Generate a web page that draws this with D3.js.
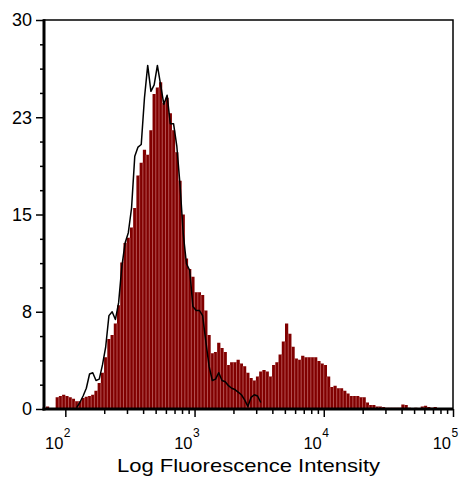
<!DOCTYPE html>
<html>
<head>
<meta charset="utf-8">
<script src="https://cdn.jsdelivr.net/npm/d3@7"></script>
<style>
  body { margin: 0; background: #fff; }
  text { font-family: "Liberation Sans", Arial, sans-serif; fill: #000; }
</style>
</head>
<body>
<div id="histogram"></div>
<script>
// Histogram bins: equal width on a log10 axis
var binStartLog = 1.85;
var binStepLog = 0.025;

// Sample counts per bin (red filled histogram)
var sampleCounts = [
  0.2, 0, 0, 0.9, 1.0, 1.1, 1.0, 0.9, 0.8, 0.6,
  0.6, 0.85, 0.95, 1.0, 1.1, 1.4, 2.0, 2.8, 4.0, 5.4,
  5.7, 6.6, 8.0, 11.3, 12.8, 13.2, 14.0, 15.5, 18.0, 19.0,
  20.0, 19.6, 21.5, 24.3, 24.8, 25.2, 23.6, 24.0, 22.8, 21.5,
  19.8, 17.6, 15.0, 11.6, 10.8, 10.2, 9.0, 9.0, 8.8, 7.6,
  5.7, 4.3, 4.4, 5.1, 4.7, 4.4, 3.4, 3.6, 3.6, 3.8,
  3.5, 3.3, 2.8, 2.4, 2.2, 2.5, 2.9, 3.0, 2.9, 2.5,
  3.4, 3.6, 4.2, 5.2, 6.6, 5.8, 4.8, 3.9, 3.8, 4.1,
  4.0, 4.0, 4.0, 4.0, 3.7, 3.5, 3.4, 2.5, 1.7, 1.8,
  1.6, 1.6, 1.4, 1.2, 1.0, 1.0, 1.0, 0.9, 0.9, 0.5,
  0.3, 0.3, 0.2, 0.2, 0.15, 0.1, 0.1, 0.1, 0.1, 0.1,
  0.35, 0.3, 0.1, 0.05, 0.1, 0.05, 0.2, 0.25, 0.15, 0.1,
  0.15, 0.05, 0, 0, 0, 0
];

// Control counts per bin (black outline), null where not drawn
var controlCounts = [
  null, null, null, null, null, null, null, null, null, 0.1,
  0.5, 1.0, 1.6, 2.7, 2.8, 2.2, 2.3, 3.4, 4.8, 7.2,
  7.5, 6.9, 8.2, 11.0, 12.8, 13.6, 15.5, 19.5, 20.2, 20.4,
  24.0, 26.5, 24.5, 25.0, 26.5, 25.0, 23.5, 24.2, 22.0, 22.0,
  20.3, 17.3, 13.5, 11.2, 10.7, 7.9, 7.6, 7.6, 7.2, 5.2,
  3.3, 2.2, 2.3, 2.8, 2.2, 2.1, 1.8, 1.6, 1.5, 1.3,
  1.1, 0.7, 0.2, 0.9, 1.1, 1.0, 0.5
];

// Axis ticks
var yTickValues = [0, 7.5, 15, 22.5, 30];
var yTickLabels = ["0", "8", "15", "23", "30"];
var yMinorTicks = [1.875, 3.75, 5.625, 9.375, 11.25, 13.125, 16.875, 18.75, 20.625, 24.375, 26.25, 28.125];
var xTickValues = [100, 1000, 10000, 100000];
var xTickExponents = ["2", "3", "4", "5"];
var xMinorTicks = [200, 300, 400, 500, 600, 700, 800, 900,
  2000, 3000, 4000, 5000, 6000, 7000, 8000, 9000,
  20000, 30000, 40000, 50000, 60000, 70000, 80000, 90000];
var xTitle = "Log Fluorescence Intensity";

// plot box in pixels (window.top is reserved, so use a margin object)
var margin = {left: 44, right: 453, top: 20, bottom: 409};
var width = 459, height = 477;

var svg = d3.select("#histogram")
  .append("svg")
  .attr("width", width)
  .attr("height", height);

var x = d3.scaleLog()
  .domain([Math.pow(10, 1.835), 100000])
  .range([margin.left, margin.right]);

var y = d3.scaleLinear()
  .domain([0, 30])
  .range([margin.bottom, margin.top]);

// bin edges on the log axis
function binLo(i) { return Math.pow(10, binStartLog + i * binStepLog); }
function binHi(i) { return Math.pow(10, binStartLog + (i + 1) * binStepLog); }
function binMid(i) { return Math.pow(10, binStartLog + (i + 0.5) * binStepLog); }

// Red histogram as one stepped area
var stepPts = [];
sampleCounts.forEach(function (v, i) {
  stepPts.push([binLo(i), v]);
  stepPts.push([binHi(i), v]);
});
svg.append("path")
  .datum(stepPts)
  .attr("d", d3.area()
    .x(function (d) { return x(d[0]); })
    .y0(y(0))
    .y1(function (d) { return y(d[1]); }))
  .attr("fill", "#800000");

// light seams between bars
svg.append("g")
  .selectAll("line")
  .data(d3.range(1, sampleCounts.length))
  .enter()
  .append("line")
  .attr("x1", function (i) { return x(binLo(i)); })
  .attr("x2", function (i) { return x(binLo(i)); })
  .attr("y1", y(0))
  .attr("y2", function (i) { return y(Math.min(sampleCounts[i - 1], sampleCounts[i])); })
  .attr("stroke", "#d88c8c")
  .attr("stroke-width", 0.6);

// Control outline
svg.append("path")
  .datum(controlCounts.map(function (v, i) { return [binMid(i), v]; }))
  .attr("d", d3.line()
    .defined(function (d) { return d[1] !== null; })
    .x(function (d) { return x(d[0]); })
    .y(function (d) { return y(d[1]); }))
  .attr("fill", "none")
  .attr("stroke", "#000")
  .attr("stroke-width", 1.5)
  .attr("stroke-linejoin", "round");

// Frame: thin top/right, thick left/bottom
svg.append("rect")
  .attr("x", margin.left).attr("y", margin.top)
  .attr("width", margin.right - margin.left).attr("height", margin.bottom - margin.top)
  .attr("fill", "none")
  .attr("stroke", "#000")
  .attr("stroke-width", 1.5);
svg.append("line")
  .attr("x1", margin.left).attr("x2", margin.left)
  .attr("y1", margin.top - 0.7).attr("y2", margin.bottom + 1.5)
  .attr("stroke", "#000").attr("stroke-width", 3);
svg.append("line")
  .attr("x1", margin.left - 1.5).attr("x2", margin.right)
  .attr("y1", margin.bottom).attr("y2", margin.bottom)
  .attr("stroke", "#000").attr("stroke-width", 3);

// Y axis ticks
var yAxis = svg.append("g")
  .attr("transform", "translate(" + margin.left + ",0)")
  .call(d3.axisLeft(y)
    .tickValues(yTickValues)
    .tickFormat(function (d, i) { return yTickLabels[i]; })
    .tickSize(8)
    .tickPadding(4));
yAxis.select(".domain").remove();
yAxis.selectAll("line").attr("stroke-width", 1.5);
yAxis.selectAll("text")
  .style("font-family", '"Liberation Sans", Arial, sans-serif')
  .style("font-size", "18px");

var yMinor = svg.append("g")
  .attr("transform", "translate(" + margin.left + ",0)")
  .call(d3.axisLeft(y).tickValues(yMinorTicks).tickSize(4).tickFormat(""));
yMinor.select(".domain").remove();
yMinor.selectAll("line").attr("stroke-width", 1.5);

// X axis ticks
var xAxis = svg.append("g")
  .attr("transform", "translate(0," + margin.bottom + ")")
  .call(d3.axisBottom(x).tickValues(xTickValues).tickSize(8).tickFormat(""));
xAxis.select(".domain").remove();
xAxis.selectAll("line").attr("stroke-width", 1.5);

var xMinor = svg.append("g")
  .attr("transform", "translate(0," + margin.bottom + ")")
  .call(d3.axisBottom(x).tickValues(xMinorTicks).tickSize(5).tickFormat(""));
xMinor.select(".domain").remove();
xMinor.selectAll("line").attr("stroke-width", 1.5);

// Power-of-ten tick labels
var xLabels = svg.append("g").selectAll("g")
  .data(xTickValues)
  .enter()
  .append("g");
xLabels.append("text")
  .attr("x", function (d) { return x(d) - 2; })
  .attr("y", 449)
  .attr("text-anchor", "end")
  .style("font-size", "16.5px")
  .text("10");
xLabels.append("text")
  .attr("x", function (d) { return x(d) - 1.5; })
  .attr("y", 437)
  .attr("text-anchor", "start")
  .style("font-size", "12px")
  .text(function (d, i) { return xTickExponents[i]; });

// Axis title
svg.append("text")
  .attr("transform", "translate(" + ((margin.left + margin.right) / 2) + ",472) scale(1.16,1)")
  .attr("text-anchor", "middle")
  .style("font-size", "19px")
  .text(xTitle);
</script>
</body>
</html>
